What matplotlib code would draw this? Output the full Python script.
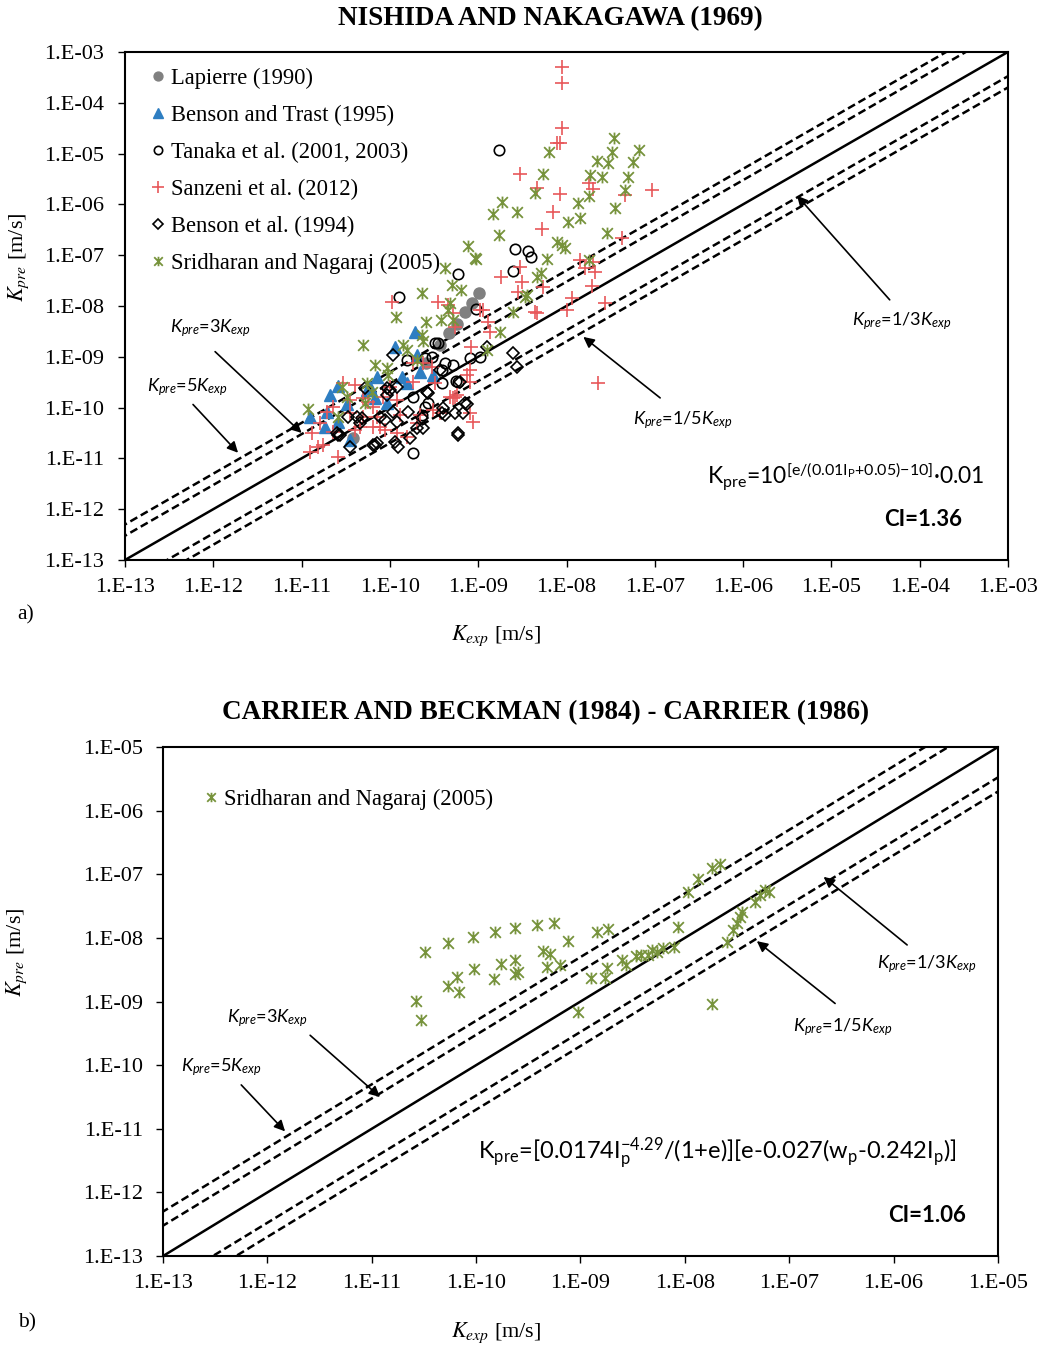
import numpy as np
import matplotlib
matplotlib.use('Agg')
import matplotlib.pyplot as plt
from matplotlib.path import Path
from matplotlib.ticker import FixedLocator, FuncFormatter, NullLocator

plt.rcParams['font.family'] = ['Liberation Serif', 'DejaVu Serif']
plt.rcParams['mathtext.fontset'] = 'custom'
plt.rcParams['mathtext.rm'] = 'Lato'
plt.rcParams['mathtext.it'] = 'Lato:italic'
plt.rcParams['mathtext.bf'] = 'Lato:bold'

# ---- data: log10(K_exp), log10(K_pre) ----
# (a) Nishida and Nakagawa (1969)
lap_x = [-8.99, -9.07, -9.15, -9.24, -9.33, -9.43, -9.59, -10.42]
lap_y = [-7.74, -7.94, -8.11, -8.35, -8.53, -8.76, -9.12, -10.59]

bt_x = [-9.72, -9.94, -9.69, -10.15, -9.86, -9.66, -9.51, -10.59, -10.23, -9.81,
        -10.68, -10.17, -10.03, -10.71, -10.91, -10.59, -10.74, -10.45, -10.49, -10.26]
bt_y = [-8.51, -8.80, -8.96, -9.39, -9.39, -9.31, -9.35, -9.57, -9.59, -9.51,
        -9.75, -9.81, -9.91, -10.08, -10.18, -10.28, -10.38, -10.63, -9.94, -9.65]

tan_x = [-8.76, -8.58, -8.44, -8.40, -8.61, -9.23, -9.90, -9.02, -9.49, -9.46,
         -9.81, -9.60, -9.52, -9.41, -9.38, -9.29, -9.09, -8.98, -9.23, -9.41,
         -9.74, -9.60, -9.57, -9.64, -9.74, -9.25]
tan_y = [-4.94, -6.87, -6.91, -7.03, -7.31, -7.37, -7.82, -8.06, -8.72, -8.72,
         -9.06, -9.02, -9.00, -9.26, -9.12, -9.16, -9.02, -9.00, -9.49, -9.51,
         -9.79, -9.98, -9.91, -10.14, -10.89, -9.47]

san_x = [-8.05, -8.05, -8.05, -8.07, -8.11, -8.53, -8.33, -8.07, -8.15, -8.28,
         -7.74, -7.70, -7.34, -7.03, -7.37, -7.85, -7.70, -7.79, -7.68, -7.71,
         -7.94, -8.00, -7.56, -7.64, -8.53, -8.74, -8.51, -8.55, -8.27, -8.33,
         -8.95, -9.98, -9.46, -9.34, -9.29, -9.26, -8.98, -8.89, -8.87, -8.36,
         -9.08, -9.09, -9.09, -9.24, -9.29, -9.09, -9.63, -9.52, -9.74, -9.74,
         -9.49, -10.00, -10.08, -9.92, -10.40, -10.53, -10.45, -10.30, -10.25, -10.19,
         -10.15, -10.11, -10.06, -10.19, -9.89, -9.92, -9.81, -9.69, -9.66, -9.51,
         -9.43, -9.32, -9.26, -10.64, -10.71, -10.79, -10.88, -10.81, -10.90, -10.76,
         -10.59, -10.64, -10.34, -10.40, -10.45, -10.30, -9.13, -9.06]
san_y = [-3.29, -3.61, -4.50, -4.79, -4.79, -5.40, -5.67, -5.80, -6.15, -6.49,
         -5.59, -5.69, -5.81, -5.72, -6.66, -7.09, -7.13, -7.25, -7.33, -7.61,
         -7.84, -8.08, -7.94, -9.51, -7.23, -7.43, -7.53, -7.72, -7.63, -8.14,
         -8.08, -7.92, -7.92, -7.98, -8.14, -8.41, -8.08, -8.31, -8.51, -8.12,
         -8.80, -9.26, -9.49, -9.75, -9.81, -10.10, -9.12, -9.20, -9.12, -9.49,
         -9.51, -9.59, -9.79, -9.85, -9.55, -9.51, -9.85, -9.81, -9.89, -9.98,
         -10.18, -10.38, -10.44, -10.38, -10.14, -10.50, -10.57, -10.30, -10.14, -10.04,
         -10.10, -9.79, -9.79, -9.98, -10.08, -10.30, -10.50, -10.77, -10.87, -10.74,
         -10.97, -10.48, -10.38, -10.44, -10.10, -10.18, -9.35, -10.28]

ben_x = [-8.90, -8.61, -8.56, -9.21, -9.13, -9.17, -9.23, -9.41, -9.58, -9.64,
         -9.69, -9.77, -9.91, -9.94, -10.17, -9.92, -10.00, -10.03, -9.97, -10.06,
         -10.34, -10.47, -10.45, -10.59, -9.97, -10.28, -10.03, -10.37, -10.32, -10.60,
         -10.57, -10.19, -10.11, -9.92, -10.15, -9.43, -9.57, -9.40, -9.38, -9.26,
         -9.15, -9.63, -9.80, -9.23]
ben_y = [-8.80, -8.92, -9.20, -9.49, -9.94, -10.10, -10.50, -10.10, -9.69, -10.20,
         -10.40, -10.59, -10.77, -10.67, -10.73, -9.59, -9.65, -9.75, -10.08, -10.24,
         -10.30, -10.18, -10.77, -10.54, -8.96, -9.61, -9.61, -10.18, -10.20, -10.50,
         -10.54, -10.73, -10.18, -10.28, -10.69, -9.26, -9.71, -10.00, -10.14, -10.10,
         -9.91, -10.40, -10.08, -10.54]

sri_x = [-8.20, -8.27, -8.36, -8.73, -8.83, -8.56, -8.76, -9.12, -9.03, -9.38,
         -9.30, -9.19, -9.64, -8.11, -8.05, -8.02, -8.22, -8.29, -8.33, -8.47,
         -7.98, -7.46, -7.48, -7.18, -7.65, -7.53, -7.25, -7.73, -7.60, -7.30,
         -7.34, -7.75, -7.87, -7.45, -7.85, -7.54, -7.75, -9.04, -8.61, -9.93,
         -9.32, -9.34, -9.42, -9.29, -9.59, -8.45, -8.75, -8.90, -10.30, -9.85,
         -9.81, -9.64, -9.63, -9.69, -10.17, -10.03, -10.02, -10.26, -10.20, -10.54,
         -10.49, -10.28, -10.59, -10.93]
sri_y = [-4.98, -5.40, -5.78, -5.95, -6.19, -6.15, -6.60, -6.82, -7.07, -7.25,
         -7.59, -7.69, -7.74, -6.74, -6.80, -6.86, -7.07, -7.35, -7.43, -7.82,
         -6.35, -4.69, -4.97, -4.93, -5.15, -5.19, -5.17, -5.42, -5.46, -5.46,
         -5.72, -5.83, -5.97, -6.07, -6.27, -6.56, -7.09, -7.06, -8.12, -8.21,
         -7.94, -8.08, -8.27, -8.27, -8.31, -7.78, -8.51, -8.86, -8.76, -8.76,
         -8.86, -8.57, -8.70, -9.06, -9.16, -9.22, -9.35, -9.51, -9.69, -9.59,
         -9.79, -9.91, -10.18, -10.03]

# (b) Carrier and Beckman (1984) - Carrier (1986)
cb_x = [-10.49, -10.27, -10.03, -9.82, -9.63, -9.42, -9.25, -8.84, -8.74, -9.12,
        -9.36, -9.29, -9.63, -9.76, -10.02, -10.18, -10.27, -10.16, -9.83, -9.63,
        -9.60, -9.32, -9.20, -8.90, -8.76, -8.75, -8.60, -8.56, -10.58, -10.53,
        -9.02, -8.47, -8.35, -8.27, -8.21, -8.10, -8.07, -7.97, -7.87, -7.74,
        -7.66, -7.60, -7.54, -7.50, -7.45, -7.33, -7.28, -7.19, -7.74, -8.42,
        -8.31, -7.47, -7.23]
cb_y = [-8.22, -8.08, -7.99, -7.91, -7.85, -7.80, -7.77, -7.91, -7.86, -8.05,
        -8.21, -8.25, -8.35, -8.41, -8.49, -8.62, -8.76, -8.85, -8.65, -8.57,
        -8.54, -8.46, -8.43, -8.63, -8.63, -8.47, -8.35, -8.43, -8.99, -9.29,
        -9.17, -8.29, -8.27, -8.22, -8.16, -8.14, -7.83, -7.28, -7.08, -6.90,
        -6.84, -8.07, -7.88, -7.77, -7.59, -7.44, -7.33, -7.28, -9.04, -8.27,
        -8.19, -7.67, -7.25]

ratios = [3, 5, 1 / 3, 1 / 5]

GREEN = '#77933C'
RED = '#E8575A'
BLUE = '#2E7EC2'
GRAY = '#808080'

star = Path([(-1, -1), (1, 1), (-1, 1), (1, -1), (0, -1.1), (0, 1.1)],
            [Path.MOVETO, Path.LINETO, Path.MOVETO, Path.LINETO, Path.MOVETO, Path.LINETO])


def p(v):
    return 10.0 ** np.asarray(v)


def setup(ax, lo, hi, ypad):
    ax.set_xscale('log')
    ax.set_yscale('log')
    ax.set_xlim(10.0 ** lo, 10.0 ** hi)
    ax.set_ylim(10.0 ** lo, 10.0 ** hi)
    ticks = 10.0 ** np.arange(lo, hi + 1)
    fmt = FuncFormatter(lambda v, pos: '1.E-%02d' % round(-np.log10(v)))
    for axis in (ax.xaxis, ax.yaxis):
        axis.set_major_locator(FixedLocator(ticks))
        axis.set_minor_locator(NullLocator())
        axis.set_major_formatter(fmt)
    ax.tick_params(axis='both', direction='out', length=5, width=1, labelsize=16)
    ax.tick_params(axis='y', pad=ypad)
    ax.tick_params(axis='x', pad=8)
    for s in ax.spines.values():
        s.set_linewidth(1.5)
    # 1:1 line and ratio lines
    k = np.array([10.0 ** (lo - 1), 10.0 ** (hi + 1)])
    ax.plot(k, k, color='k', lw=1.8, zorder=1)
    for r in ratios:
        ax.plot(k, r * k, color='k', lw=1.8, dashes=(3.2, 1.6), zorder=1)


def label(ax, x, y, text, tip, base):
    ax.annotate('', xy=p(tip), xytext=p(base),
                arrowprops=dict(arrowstyle='-|>', color='k', lw=1.2, mutation_scale=16,
                                shrinkA=0, shrinkB=0))
    ax.text(x, y, text, transform=ax.transAxes, ha='center', va='center',
            fontsize=13, family='Lato')


fig = plt.figure(figsize=(10.42, 13.48), dpi=100)

# ---------------- (a) ----------------
ax1 = fig.add_axes([0.120, 0.5846, 0.8474, 0.3769])
setup(ax1, -13, -3, 10)
ax1.plot(p(lap_x), p(lap_y), 'o', ls='none', color=GRAY, ms=8, label='Lapierre (1990)', zorder=3)
ax1.plot(p(bt_x), p(bt_y), '^', ls='none', color=BLUE, ms=8.5, label='Benson and Trast (1995)', zorder=3)
ax1.plot(p(tan_x), p(tan_y), 'o', ls='none', mfc='none', mec='k', mew=1.2, ms=7.5,
         label='Tanaka et al. (2001, 2003)', zorder=3)
ax1.plot(p(san_x), p(san_y), '+', ls='none', color=RED, ms=10, mew=1.2, label='Sanzeni et al. (2012)', zorder=3)
ax1.plot(p(ben_x), p(ben_y), 'D', ls='none', mfc='none', mec='k', mew=1.2, ms=6,
         label='Benson et al. (1994)', zorder=3)
ax1.plot(p(sri_x), p(sri_y), marker=star, ls='none', mfc='none', mec=GREEN, mew=1.3, ms=8.5,
         label='Sridharan and Nagaraj (2005)', zorder=3)
ax1.legend(loc='upper left', bbox_to_anchor=(0.019, 0.987), frameon=False, fontsize=16.3,
           handlelength=0.6, handletextpad=0.3, labelspacing=0.70, markerscale=0.8,
           borderaxespad=0)

label(ax1, 0.097, 0.457, r'$K_{pre}$=3$K_{exp}$', (-11.0, -10.50), (-11.98, -8.90))
label(ax1, 0.070, 0.341, r'$K_{pre}$=5$K_{exp}$', (-11.72, -10.89), (-12.23, -9.94))
label(ax1, 0.879, 0.470, r'$K_{pre}$=1/3$K_{exp}$', (-5.39, -5.83), (-4.34, -7.88))
label(ax1, 0.631, 0.276, r'$K_{pre}$=1/5$K_{exp}$', (-7.81, -8.61), (-6.94, -9.81))

ax1.text(0.659, 0.163, r'K$_{\mathrm{pre}}$=10$^{\mathrm{[e/(0.01I_{P}{+}0.05){-}10]}}$·0.01',
         transform=ax1.transAxes, ha='left', va='center', fontsize=16.5, family='Lato')
ax1.text(0.948, 0.079, 'CI=1.36', transform=ax1.transAxes, ha='right', va='center',
         fontsize=16, family='Lato', weight='bold')

ax1.set_xlabel(r'$K_{exp}$ [m/s]', fontsize=16, math_fontfamily='stix')
ax1.xaxis.set_label_coords(0.42, -0.126)
ax1.set_ylabel(r'$K_{pre}$ [m/s]', fontsize=16, math_fontfamily='stix')
ax1.yaxis.set_label_coords(-0.106, 0.596)

fig.text(0.528, 0.986, 'NISHIDA AND NAKAGAWA (1969)', ha='center', va='center',
         fontsize=19.5, weight='bold')
fig.text(0.017, 0.5438, 'a)', ha='left', va='center', fontsize=15.5)

# ---------------- (b) ----------------
ax2 = fig.add_axes([0.1564, 0.0682, 0.8013, 0.3776])
setup(ax2, -13, -5, 9.5)
ax2.plot(p(cb_x), p(cb_y), marker=star, ls='none', mfc='none', mec=GREEN, mew=1.3, ms=8.5,
         label='Sridharan and Nagaraj (2005)', zorder=3)
ax2.legend(loc='upper left', bbox_to_anchor=(0.038, 0.935), frameon=False, fontsize=16.3,
           handlelength=0.6, handletextpad=0.3, markerscale=0.8, borderaxespad=0)

label(ax2, 0.125, 0.468, r'$K_{pre}$=3$K_{exp}$', (-10.92, -10.50), (-11.59, -9.53))
label(ax2, 0.070, 0.372, r'$K_{pre}$=5$K_{exp}$', (-11.83, -11.04), (-12.25, -10.31))
label(ax2, 0.914, 0.573, r'$K_{pre}$=1/3$K_{exp}$', (-6.67, -7.04), (-5.87, -8.11))
label(ax2, 0.814, 0.450, r'$K_{pre}$=1/5$K_{exp}$', (-7.31, -8.05), (-6.56, -9.03))

ax2.text(0.377, 0.202,
         r'K$_{\mathrm{pre}}$=[0.0174I$_{\mathrm{p}}^{\mathrm{{-}4.29}}$/(1+e)][e-0.027(w$_{\mathrm{p}}$-0.242I$_{\mathrm{p}}$)]',
         transform=ax2.transAxes, ha='left', va='center', fontsize=17, family='Lato')
ax2.text(0.962, 0.079, 'CI=1.06', transform=ax2.transAxes, ha='right', va='center',
         fontsize=16, family='Lato', weight='bold')

ax2.set_xlabel(r'$K_{exp}$ [m/s]', fontsize=16, math_fontfamily='stix')
ax2.xaxis.set_label_coords(0.399, -0.126)
ax2.set_ylabel(r'$K_{pre}$ [m/s]', fontsize=16, math_fontfamily='stix')
ax2.yaxis.set_label_coords(-0.160, 0.597)

fig.text(0.524, 0.471, 'CARRIER AND BECKMAN (1984) - CARRIER (1986)', ha='center', va='center',
         fontsize=19.5, weight='bold')
fig.text(0.017, 0.0188, 'b)', ha='left', va='center', fontsize=15.5)

fig.savefig('out.png', dpi=100)
